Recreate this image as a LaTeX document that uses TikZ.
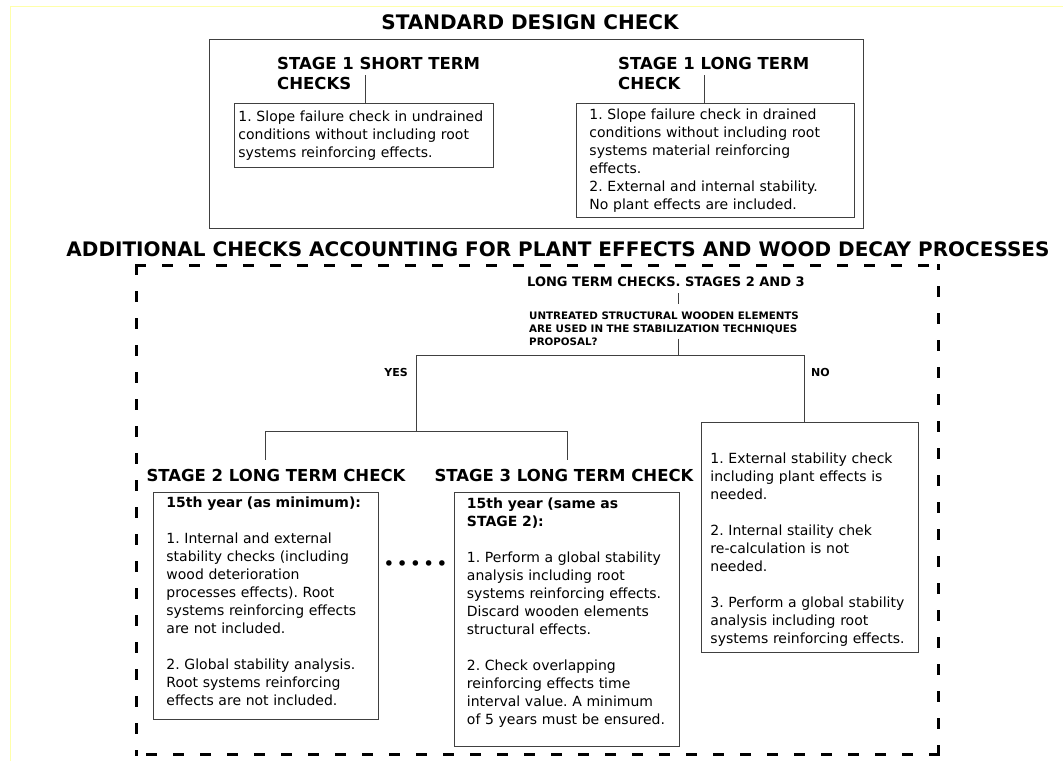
\documentclass[tikz,border=0pt]{standalone}
\usepackage{fontspec}
\setmainfont{DejaVu Sans}
\usetikzlibrary{positioning, calc}
\definecolor{linegray}{RGB}{64,64,64}
\definecolor{paleyellow}{RGB}{255,255,170}
\newcommand{\toppad}[1]{\rule{0pt}{#1}}
\newcommand{\botpad}[1]{\rule[-#1]{0pt}{#1}}
\frenchspacing

\begin{document}
\frenchspacing
\begin{tikzpicture}[
  x=1pt, y=1pt,
  title/.style={font=\bfseries\fontsize{20}{24}\selectfont, inner sep=0pt},
  head/.style={font=\bfseries\fontsize{16.5}{20.5}\selectfont, align=left, inner sep=0pt},
  subhead/.style={font=\bfseries\fontsize{13}{16}\selectfont, inner sep=0pt},
  quest/.style={font=\bfseries\fontsize{10.3}{13}\selectfont, align=left, inner sep=0pt},
  answer/.style={font=\bfseries\fontsize{11}{13}\selectfont, inner sep=0pt},
  textbox/.style={draw=linegray, line width=0.9pt, anchor=north west, align=left,
                  font=\fontsize{14}{18}\selectfont, inner ysep=0pt},
  frame/.style={draw=linegray, line width=0.9pt, anchor=north west, inner sep=0pt},
  link/.style={draw=linegray, line width=0.9pt},
  dashframe/.style={line width=3pt, line cap=rect, dash pattern=on 8pt off 19pt}
]
\path[fill=white, use as bounding box] (0,0) rectangle (1063,-761);
\draw[paleyellow, line width=1pt] (10,-761) -- (10,-6) -- (1063,-6);

% Standard design check
\node[title] (stdtitle) at (530,-22.5) {STANDARD DESIGN CHECK};
\node[frame, minimum width=654pt, minimum height=189pt] (stdframe) at (209,-39) {};

\node[head, anchor=north west] (hshort) at (277,-57) {STAGE 1 SHORT TERM\\CHECKS};
\node[head, anchor=north west] (hlong) at (618,-57) {STAGE 1 LONG TERM\\CHECK};

\node[textbox, inner xsep=4pt, text width=251pt, minimum height=64pt] (ashort) at (234,-103)
  {1. Slope failure check in undrained\\conditions without including root\\systems reinforcing effects.};
\node[textbox, inner xsep=13pt, text width=252pt, minimum height=114pt] (along) at (576,-103)
  {1. Slope failure check in drained\\conditions without including root\\systems material reinforcing\\effects.\\2. External and internal stability.\\No plant effects are included.};

\coordinate (ts) at (365,-75);
\coordinate (tl) at (704,-75);
\draw[link] (ts) -- (ts |- ashort.north);
\draw[link] (tl) -- (tl |- along.north);

% Additional checks
\node[title] (addtitle) at (558,-249) {ADDITIONAL CHECKS ACCOUNTING FOR PLANT EFFECTS AND WOOD DECAY PROCESSES};
\coordinate (dnw) at (136,-265);
\coordinate (dne) at (938,-265);
\coordinate (dse) at (938,-754);
\coordinate (dsw) at (136,-754);
\draw[dashframe] (dnw) -- (dne);
\draw[dashframe] (dnw) -- (dsw);
\draw[dashframe] (dse) -- (dne);
\draw[dashframe] (dse) -- (dsw);

\node[subhead, anchor=west] (ltc) at (527,-282) {LONG TERM CHECKS. STAGES 2 AND 3};
\node[quest, anchor=north west] (quest) at (529,-311.5)
  {UNTREATED STRUCTURAL WOODEN ELEMENTS\\ARE USED IN THE STABILIZATION TECHNIQUES\\PROPOSAL?};

\node[answer, anchor=east] (yes) at (408,-372) {YES};
\node[answer, anchor=west] (no) at (811,-372) {NO};

\node[head] (hs2) at (276,-475) {STAGE 2 LONG TERM CHECK};
\node[head] (hs3) at (564,-475) {STAGE 3 LONG TERM CHECK};

\node[textbox, inner xsep=13pt, text width=199pt, minimum height=227pt] (s2box) at (153,-492)
  {\textbf{15th year (as minimum):}\\[18pt]1. Internal and external\\stability checks (including\\wood deterioration\\processes effects). Root\\systems reinforcing effects\\are not included.\\[18pt]2. Global stability analysis.\\Root systems reinforcing\\effects are not included.\botpad{9pt}};
\node[textbox, inner xsep=12.5pt, text width=200pt, minimum height=254pt] (s3box) at (454,-492)
  {\textbf{15th year (same as}\\\textbf{STAGE 2):}\\[18pt]1. Perform a global stability\\analysis including root\\systems reinforcing effects.\\Discard wooden elements\\structural effects.\\[18pt]2. Check overlapping\\reinforcing effects time\\interval value. A minimum\\of 5 years must be ensured.\botpad{17pt}};
\node[textbox, inner xsep=9pt, text width=199pt, minimum height=230pt] (nobox) at (701,-422)
  {\toppad{34.5pt}1. External stability check\\including plant effects is\\needed.\\[18pt]2. Internal staility chek\\re-calculation is not\\needed.\\[18pt]3. Perform a global stability\\analysis including root\\systems reinforcing effects.};

\node[font=\fontsize{19}{19}\selectfont, inner sep=0pt] (dots) at (415.5,-566)
  {•\hspace{2pt}•\hspace{2pt}•\hspace{2pt}•\hspace{2pt}•};

% Decision tree
\coordinate (jq) at (678,-355);
\coordinate (jy) at (416,-355);
\coordinate (jn) at (804,-355);
\coordinate (b2) at (265,-431);
\coordinate (b3) at (567,-431);

\draw[link] ($(ltc.south -| jq)+(0,-6)$) -- ($(quest.north -| jq)+(0,8)$);
\draw[link] ($(quest.south -| jq)+(0,7)$) -- (jq);
\draw[link] (jy) -- (jn);
\draw[link] (jn) -- (jn |- nobox.north);
\draw[link] (jy) -- (jy |- b2);
\draw[link] (b2) -- (b3);
\draw[link] (b2) -- ($(b2 |- hs2.north)+(0,9)$);
\draw[link] (b3) -- ($(b3 |- hs3.north)+(0,9)$);
\end{tikzpicture}
\end{document}
